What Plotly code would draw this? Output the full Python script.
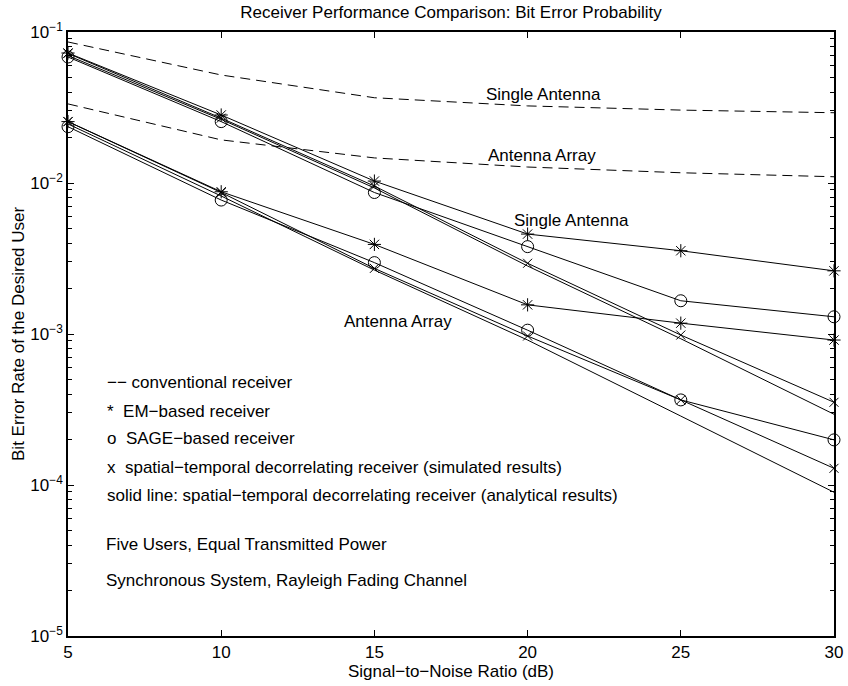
import plotly.graph_objects as go

snr = [5, 10, 15, 20, 25, 30]

# Conventional receiver (dashed)
conv_single = [0.0859, 0.0519, 0.0367, 0.0324, 0.0304, 0.0292]
conv_array = [0.0334, 0.0193, 0.01466, 0.01276, 0.01169, 0.0110]

# Single antenna
em_single = [0.0726, 0.0282, 0.0103, 0.00459, 0.00356, 0.00262]
sage_single = [0.0683, 0.0255, 0.00865, 0.00379, 0.00166, 0.00130]
sim_single = [0.0721, 0.0269, 0.00955, 0.00294, 0.000984, 0.000353]
ana_single = [0.0698, 0.0264, 0.00927, 0.00282, 0.000930, 0.000294]

# Antenna array
em_array = [0.0255, 0.00875, 0.00392, 0.00156, 0.00118, 0.000912]
sage_array = [0.0236, 0.00771, 0.00297, 0.00106, 0.000366, 0.000199]
sim_array = [0.0255, 0.00865, 0.00272, 0.00097, 0.000366, 0.000129]
ana_array = [0.0246, 0.0082, 0.00265, 0.000912, 0.000286, 0.0000895]

x_ticks = [5, 10, 15, 20, 25, 30]
y_ticks = [1e-5, 1e-4, 1e-3, 1e-2, 1e-1]
y_ticktext = ["10<sup>−5</sup>", "10<sup>−4</sup>", "10<sup>−3</sup>", "10<sup>−2</sup>", "10<sup>−1</sup>"]
y_minor = [m * 10.0 ** e for e in range(-5, -1) for m in range(2, 10)]

FONT = "Liberation Sans, Arial, Helvetica, sans-serif"
FS = 17

fig = go.Figure()

def add(y, dash="solid", symbol=None, size=10):
    fig.add_trace(go.Scatter(
        x=snr, y=y,
        mode="lines+markers" if symbol else "lines",
        line=dict(color="black", width=1, dash=dash),
        marker=dict(symbol=symbol, size=size, color="black",
                    line=dict(color="black", width=1)) if symbol else None,
        cliponaxis=False, showlegend=False,
    ))

add(conv_single, dash="10px,6px")
add(conv_array, dash="10px,6px")
add(ana_single)
add(ana_array)
add(em_single, symbol="asterisk-open", size=11)
add(em_array, symbol="asterisk-open", size=11)
add(sage_single, symbol="circle-open", size=12)
add(sage_array, symbol="circle-open", size=12)
add(sim_single, symbol="x-thin-open", size=9)
add(sim_array, symbol="x-thin-open", size=9)

annots = [
    ("Single Antenna", 0.543, 0.897),
    ("Antenna Array", 0.5457, 0.796),
    ("Single Antenna", 0.5796, 0.6887),
    ("Antenna Array", 0.3577, 0.5199),
    ("−− conventional receiver", 0.0483, 0.4205),
    ("*  EM−based receiver", 0.0483, 0.3725),
    ("o  SAGE−based receiver", 0.0483, 0.3278),
    ("x  spatial−temporal decorrelating receiver (simulated results)", 0.0483, 0.2798),
    ("solid line: spatial−temporal decorrelating receiver (analytical results)", 0.0483, 0.2334),
    ("Five Users, Equal Transmitted Power", 0.0470, 0.1507),
    ("Synchronous System, Rayleigh Fading Channel", 0.0470, 0.0927),
]
for t, ax, ay in annots:
    fig.add_annotation(text=t, x=ax, y=ay, xref="paper", yref="paper",
                       xanchor="left", yanchor="middle", showarrow=False,
                       font=dict(family=FONT, size=FS, color="black"))

fig.add_annotation(text="Signal−to−Noise Ratio (dB)", x=0.5, y=-0.058,
                   xref="paper", yref="paper", xanchor="center", yanchor="middle",
                   showarrow=False, font=dict(family=FONT, size=FS, color="black"))
fig.add_annotation(text="Bit Error Rate of the Desired User", x=-0.0653, y=0.5,
                   xref="paper", yref="paper", xanchor="center", yanchor="middle",
                   textangle=-90, showarrow=False,
                   font=dict(family=FONT, size=FS, color="black"))

fig.update_layout(
    width=848, height=686,
    margin=dict(l=68, r=14, t=32, b=50),
    paper_bgcolor="white", plot_bgcolor="white",
    font=dict(family=FONT, size=FS, color="black"),
    title=dict(text="Receiver Performance Comparison: Bit Error Probability",
               x=0.5, xref="paper", xanchor="center",
               y=1 - 12.5 / 686, yanchor="middle",
               font=dict(family=FONT, size=FS, color="black")),
    xaxis=dict(range=[5, 30], tickvals=x_ticks, ticks="inside", ticklen=6,
               showline=True, linecolor="black", linewidth=1.5, mirror="ticks",
               showgrid=False, zeroline=False, tickcolor="black", automargin=False,
               tickfont=dict(family=FONT, size=FS, color="black")),
    yaxis=dict(type="log", range=[-5, -1], tickvals=y_ticks, ticktext=y_ticktext,
               ticks="inside", ticklen=6, showline=True, linecolor="black",
               linewidth=1.5, mirror="ticks", showgrid=False, zeroline=False,
               tickcolor="black", automargin=False,
               minor=dict(tickmode="array", tickvals=y_minor, ticks="inside",
                          ticklen=4, tickcolor="black", showgrid=False),
               tickfont=dict(family=FONT, size=FS, color="black")),
)

fig.write_html("out.html")
